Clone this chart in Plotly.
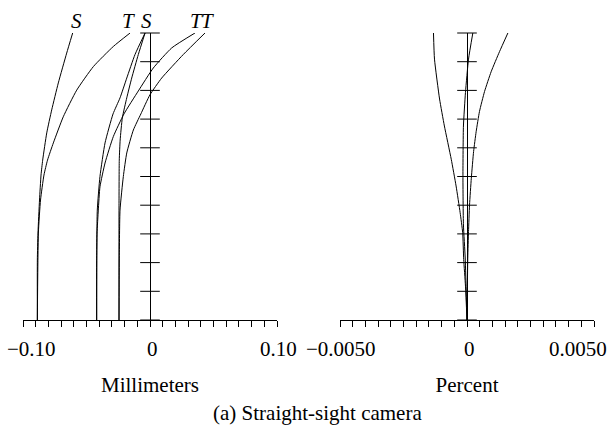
import numpy as np
import plotly.graph_objects as go

# ---------------- data ----------------
# Left: astigmatic field curves (Millimeters) vs relative field height
field_S1 = [0.0, 0.209, 0.303, 0.418, 0.505, 0.557, 0.652, 0.732, 0.826, 0.930, 1.0]
x_S1 = [-0.0887, -0.0887, -0.0882, -0.0870, -0.0858, -0.0845, -0.0813, -0.0774, -0.0722, -0.0656, -0.0609]

field_T1 = [0.0, 0.303, 0.418, 0.505, 0.557, 0.617, 0.708, 0.801, 0.883, 0.953, 1.0]
x_T1 = [-0.0887, -0.0879, -0.0862, -0.0835, -0.0807, -0.0761, -0.0683, -0.0577, -0.0446, -0.0289, -0.0157]

field_SA = [0.0, 0.209, 0.383, 0.500, 0.617, 0.718, 0.774, 0.843, 0.925, 1.0]
x_SA = [-0.0420, -0.0420, -0.0415, -0.0394, -0.0354, -0.0291, -0.0236, -0.0183, -0.0118, -0.0039]

field_TA = [0.0, 0.300, 0.383, 0.464, 0.547, 0.639, 0.718, 0.798, 0.878, 0.948, 1.0]
x_TA = [-0.0420, -0.0417, -0.0407, -0.0394, -0.0354, -0.0289, -0.0205, -0.0092, 0.0026, 0.0171, 0.0354]

field_SB = [0.0, 0.400, 0.557, 0.627, 0.704, 0.774, 0.843, 0.925, 1.0]
x_SB = [-0.0244, -0.0244, -0.0242, -0.0235, -0.0218, -0.0183, -0.0144, -0.0092, -0.0039]

field_TB = [0.0, 0.209, 0.383, 0.500, 0.582, 0.662, 0.718, 0.785, 0.843, 0.925, 1.0]
x_TB = [-0.0244, -0.0242, -0.0236, -0.0210, -0.0183, -0.0131, -0.0072, 0.0000, 0.0092, 0.0262, 0.0433]

# Right: distortion (Percent) vs relative field height
field_D1 = [0.0, 0.118, 0.211, 0.304, 0.374, 0.467, 0.560, 0.676, 0.770, 0.909, 1.0]
x_D1 = [0.0, -0.00006, -0.00013, -0.00017, -0.00027, -0.00043, -0.00062, -0.00089, -0.00108, -0.00128, -0.00132]

field_D2 = [0.0, 0.215, 0.308, 0.401, 0.494, 0.587, 0.656, 0.726, 0.796, 0.865, 0.935, 1.0]
x_D2 = [0.0, 0.00003, 0.00006, 0.00010, 0.00017, 0.00026, 0.00036, 0.00049, 0.00069, 0.00095, 0.00128, 0.00161]

field_D3 = [0.0, 0.216, 0.331, 0.502, 0.676, 0.793, 0.909, 1.0]
x_D3 = [0.0, -0.00007, -0.00014, -0.00016, -0.00014, -0.00006, 0.00006, 0.00023]

# ticks / labels
left_ticks = [round(v, 3) for v in np.arange(-0.10, 0.1001, 0.01)]
left_label_vals = [-0.10, 0.0, 0.10]
left_label_text = ["\u22120.10", "0", "0.10"]
right_ticks = [round(v, 4) for v in np.arange(-0.005, 0.00501, 0.0005)]
right_label_vals = [-0.005, 0.0, 0.005]
right_label_text = ["\u22120.0050", "0", "0.0050"]
y_ticks = [round(v, 1) for v in np.arange(0, 1.001, 0.1)]

curve_labels = ["S", "T", "S", "T", "T"]
curve_label_x = [-0.0577, -0.0170, -0.0026, 0.0368, 0.0449]

xlabel_left = "Millimeters"
xlabel_right = "Percent"
caption = "(a) Straight-sight camera"

FONT = "Liberation Serif, Times New Roman, serif"
FS = 21

# ---------------- figure ----------------
W, H = 608, 429
fig = go.Figure()

line_style = dict(color="black", width=1, shape="spline", smoothing=0.5)
for xs, ys in [(x_S1, field_S1), (x_T1, field_T1), (x_SA, field_SA),
               (x_TA, field_TA), (x_SB, field_SB), (x_TB, field_TB)]:
    fig.add_trace(go.Scatter(x=xs, y=ys, mode="lines", line=line_style,
                             xaxis="x", yaxis="y", showlegend=False, hoverinfo="skip"))
for xs, ys in [(x_D1, field_D1), (x_D2, field_D2), (x_D3, field_D3)]:
    fig.add_trace(go.Scatter(x=xs, y=ys, mode="lines", line=line_style,
                             xaxis="x2", yaxis="y2", showlegend=False, hoverinfo="skip"))

# crossing tick marks on the vertical (field) axes
for xa, ya in [("x", "y"), ("x2", "y2")]:
    fig.add_trace(go.Scatter(x=[0] * len(y_ticks), y=y_ticks, mode="markers",
                             marker=dict(symbol="line-ew", size=14,
                                         line=dict(color="black", width=1)),
                             xaxis=xa, yaxis=ya, showlegend=False, hoverinfo="skip",
                             cliponaxis=False))

px_l0, px_l1 = 23, 277
px_r0, px_r1 = 340, 594
py_top, py_bot = 33, 320
ydom = [(H - py_bot) / H, (H - py_top) / H]

common_x = dict(showline=True, linecolor="black", linewidth=1, ticks="outside",
                ticklen=6, tickcolor="black", tickwidth=1, showgrid=False,
                zeroline=True, zerolinecolor="black", zerolinewidth=1,
                showticklabels=False, automargin=False, fixedrange=True,
                tickmode="array")

title_font = dict(family=FONT, size=FS, color="black")
fig.update_layout(
    width=W, height=H,
    margin=dict(l=0, r=0, t=0, b=0, autoexpand=False),
    paper_bgcolor="white", plot_bgcolor="white",
    font=dict(family=FONT, size=FS, color="black"),
    hovermode=False,
    xaxis=dict(common_x, domain=[px_l0 / W, px_l1 / W], range=[-0.1, 0.1], anchor="y",
               tickvals=left_ticks,
               title=dict(text=xlabel_left, font=title_font, standoff=51)),
    yaxis=dict(domain=ydom, range=[0, 1], visible=False, fixedrange=True, automargin=False),
    xaxis2=dict(common_x, domain=[px_r0 / W, px_r1 / W], range=[-0.005, 0.005], anchor="y2",
                tickvals=right_ticks,
                title=dict(text=xlabel_right, font=title_font, standoff=51)),
    yaxis2=dict(domain=ydom, range=[0, 1], visible=False, fixedrange=True, anchor="x2",
                automargin=False),
)

# tick labels (edge labels nudged inward as in the reference)
label_y = (H - 349) / H
for xref, vals, texts, shifts in [("x", left_label_vals, left_label_text, [8, 2, 1]),
                                  ("x2", right_label_vals, right_label_text, [1, 2, -16])]:
    for v, t, s in zip(vals, texts, shifts):
        fig.add_annotation(x=v, y=label_y, xref=xref, yref="paper", text=t,
                           showarrow=False, xanchor="center", yanchor="middle", xshift=s,
                           font=dict(family=FONT, size=FS, color="black"))

label_top_y = (H - 21) / H
for txt, xv in zip(curve_labels, curve_label_x):
    fig.add_annotation(x=xv, y=label_top_y, xref="x", yref="paper", text=f"<i>{txt}</i>",
                       showarrow=False, font=dict(family=FONT, size=FS, color="black"),
                       xanchor="center", yanchor="middle")

fig.add_annotation(x=317 / W, y=(H - 413) / H, xref="paper", yref="paper", text=caption,
                   showarrow=False, font=dict(family=FONT, size=FS, color="black"),
                   xanchor="center", yanchor="middle")

fig.write_html("out.html", config={"displayModeBar": False, "staticPlot": True},
               post_script="document.body.style.margin='0';document.body.style.overflow='hidden';")
